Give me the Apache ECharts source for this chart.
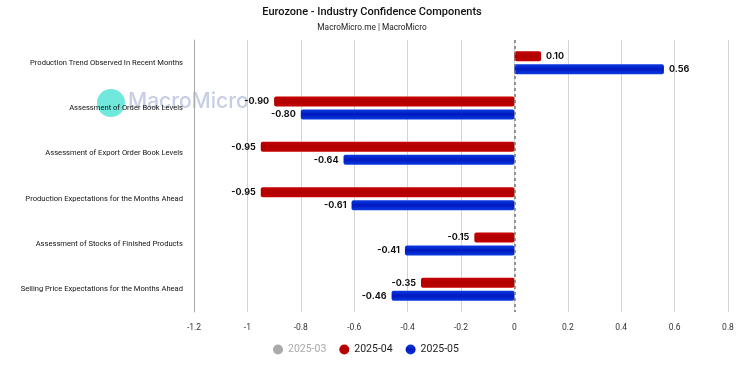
<!DOCTYPE html>
<html><head><meta charset="utf-8">
<script src="https://cdn.jsdelivr.net/npm/echarts@6/dist/echarts.min.js"></script>
<style>html,body{margin:0;padding:0;background:#fff}#c{width:744px;height:366px}</style>
</head><body><div id="c"></div>
<script>
var categories = [
  "Production Trend Observed In Recent Months",
  "Assessment of Order Book Levels",
  "Assessment of Export Order Book Levels",
  "Production Expectations for the Months Ahead",
  "Assessment of Stocks of Finished Products",
  "Selling Price Expectations for the Months Ahead"
];
var seriesNames = ["2025-03", "2025-04", "2025-05"];
var values202503 = [null, null, null, null, null, null];
var values202504 = [0.10, -0.90, -0.95, -0.95, -0.15, -0.35];
var values202505 = [0.56, -0.80, -0.64, -0.61, -0.41, -0.46];
var xTicks = { min: -1.2, max: 0.8, interval: 0.2 };

var FONT = 'Roboto, sans-serif';
function grad(c1, c2) {
  return new echarts.graphic.LinearGradient(0, 0, 0, 1, [
    {offset: 0, color: c1}, {offset: 0.5, color: c2}, {offset: 1, color: c1}
  ]);
}
var lbl = {
  show: true, position: 'right', fontSize: 9, fontWeight: 'bold', color: '#111',
  fontFamily: 'Inter, Roboto, sans-serif',
  formatter: function (p) { return p.value == null ? '' : p.value.toFixed(2); }
};
function mkLabel(vals) {
  return vals.map(function (v) {
    return { value: v, label: { position: v < 0 ? 'left' : 'right' } };
  });
}
var chart = echarts.init(document.getElementById('c'), null, {renderer: 'canvas'});
chart.setOption({
  animation: false,
  title: {
    text: 'Eurozone - Industry Confidence Components',
    subtext: 'MacroMicro.me | MacroMicro',
    left: 'center', top: 2, itemGap: 6,
    textStyle: { fontSize: 11, fontWeight: 500, color: '#111', fontFamily: FONT },
    subtextStyle: { fontSize: 8.3, color: '#222', fontFamily: FONT }
  },
  legend: {
    bottom: 6, left: 268, icon: 'circle', itemWidth: 10, itemHeight: 10, itemGap: 13,
    data: seriesNames,
    selected: { '2025-03': false },
    inactiveColor: '#aaa',
    textStyle: { fontSize: 10.5, color: '#222', fontFamily: FONT }
  },
  graphic: [
    { type: 'circle', left: 97, top: 89, shape: { r: 14 }, style: { fill: 'rgba(64,224,208,0.75)' }, z: 0 },
    { type: 'text', left: 128, top: 91, style: { text: 'MacroMicro', fontSize: 21, fontWeight: 500, fontFamily: 'Inter, Roboto, sans-serif', fill: 'rgba(150,165,205,0.55)' }, z: 0 }
  ],
  grid: { left: 194, right: 16, top: 40, bottom: 54, containLabel: false, outerBoundsMode: 'none' },
  xAxis: {
    type: 'value', min: xTicks.min, max: xTicks.max, interval: xTicks.interval,
    axisLine: { show: false }, axisTick: { show: false },
    axisLabel: { fontSize: 8.5, color: '#333', margin: 11, fontFamily: FONT },
    splitLine: { show: true, lineStyle: { color: '#d4d4d4', width: 1 } }
  },
  yAxis: {
    type: 'category', data: categories, inverse: true,
    axisLine: { show: true, onZero: false, lineStyle: { color: '#aaa' } },
    axisTick: { show: false },
    axisLabel: { fontSize: 7.6, color: '#111', margin: 11, fontFamily: FONT }
  },
  series: [
    { name: '2025-03', type: 'bar', data: values202503, barWidth: 10, barGap: '30%',
      itemStyle: { color: '#999', borderRadius: 2 }, label: lbl },
    { name: '2025-04', type: 'bar', data: mkLabel(values202504), barWidth: 10, barGap: '30%',
      itemStyle: { color: grad('#c40000', '#b00000'), borderRadius: 2 }, label: lbl,
      markLine: { silent: true, symbol: 'none', label: { show: false },
        lineStyle: { color: '#777', type: [3, 3], width: 1.5 }, data: [{ xAxis: 0 }] } },
    { name: '2025-05', type: 'bar', data: mkLabel(values202505), barWidth: 10, barGap: '30%',
      itemStyle: { color: grad('#0a3be0', '#0018c0'), borderRadius: 2 }, label: lbl }
  ],
  color: ['#aaaaaa', '#c00000', '#0040e0']
});
</script></body></html>
